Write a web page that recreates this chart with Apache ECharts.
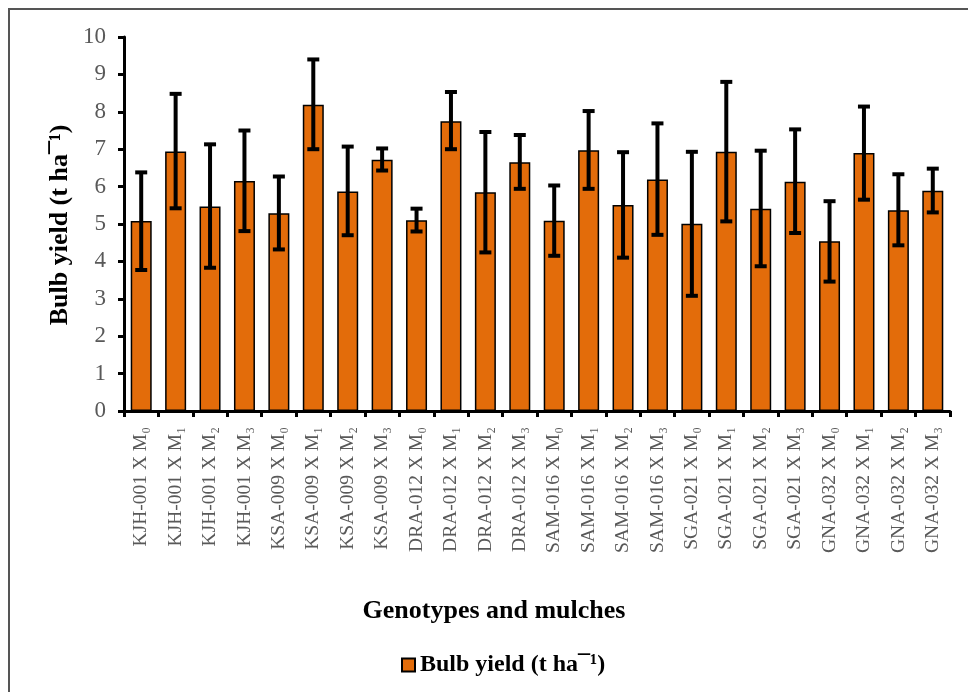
<!DOCTYPE html>
<html>
<head>
<meta charset="utf-8">
<script src="https://cdn.jsdelivr.net/npm/echarts@6/dist/echarts.min.js"></script>
<style>
html,body{margin:0;padding:0;background:#fff;}
#frame{position:absolute;left:8px;top:8px;width:960px;height:684px;border-left:2px solid #555;border-top:2px solid #555;box-sizing:border-box;}
#c{position:absolute;left:0;top:0;width:968px;height:692px;}
</style>
</head>
<body>
<div id="frame"></div>
<div id="c"></div>
<script>
const categories = [
  "KJH-001 X M₀","KJH-001 X M₁","KJH-001 X M₂","KJH-001 X M₃",
  "KSA-009 X M₀","KSA-009 X M₁","KSA-009 X M₂","KSA-009 X M₃",
  "DRA-012 X M₀","DRA-012 X M₁","DRA-012 X M₂","DRA-012 X M₃",
  "SAM-016 X M₀","SAM-016 X M₁","SAM-016 X M₂","SAM-016 X M₃",
  "SGA-021 X M₀","SGA-021 X M₁","SGA-021 X M₂","SGA-021 X M₃",
  "GNA-032 X M₀","GNA-032 X M₁","GNA-032 X M₂","GNA-032 X M₃"
];
const yieldValues = [5.08,6.94,5.47,6.15, 5.29,8.19,5.87,6.72, 5.10,7.75,5.85,6.65,
                     5.09,6.97,5.51,6.19, 5.01,6.93,5.41,6.13, 4.54,6.90,5.37,5.89];
const errHigh = [6.38,8.48,7.13,7.50, 6.27,9.40,7.07,7.02, 5.41,8.53,7.46,7.38,
                 6.03,8.02,6.92,7.69, 6.93,8.80,6.96,7.53, 5.61,8.14,6.33,6.48];
const errLow  = [3.77,5.42,3.83,4.81, 4.32,7.00,4.70,6.43, 4.80,7.00,4.24,5.94,
                 4.15,5.94,4.10,4.71, 3.08,5.07,3.87,4.76, 3.46,5.65,4.43,5.31];
const yTicks = {min:0, max:10, interval:1};
const seriesName = "Bulb yield (t ha¯¹)";

const errData = categories.map((c,i)=>[i, errLow[i], errHigh[i]]);
const chart = echarts.init(document.getElementById('c'), null, {renderer:'canvas'});
const serif = '"Liberation Serif","Times New Roman",serif';
chart.setOption({
  backgroundColor:'transparent',
  animation:false,
  grid:{left:124, right:18, top:37, bottom:281},
  legend:{
    data:[{name:seriesName, icon:'rect'}],
    left:396, top:648, itemWidth:13, itemHeight:13, itemGap:4,
    textStyle:{fontFamily:serif, fontWeight:'bold', fontSize:24, color:'#000'}
  },
  xAxis:{
    type:'category', data:categories,
    axisLine:{lineStyle:{color:'#000', width:3}},
    axisTick:{show:true, alignWithLabel:false, length:6, lineStyle:{color:'#000', width:3}},
    axisLabel:{rotate:90, interval:0, margin:16, fontFamily:serif, fontSize:19.5, color:'#595959'}
  },
  yAxis:{
    type:'value', min:yTicks.min, max:yTicks.max, interval:yTicks.interval,
    splitLine:{show:false},
    axisLine:{show:true, lineStyle:{color:'#000', width:3}},
    axisTick:{show:true, length:6, lineStyle:{color:'#000', width:3}},
    axisLabel:{margin:18, fontFamily:serif, fontSize:23, color:'#595959'}
  },
  graphic:[
    {type:'text', x:494, y:611, style:{text:'Genotypes and mulches', font:'bold 26px '+serif, fill:'#000', align:'center', verticalAlign:'middle'}},
    {type:'text', x:60, y:225, rotation:Math.PI/2, style:{text:'Bulb yield (t ha¯¹)', font:'bold 26px '+serif, fill:'#000', align:'center', verticalAlign:'middle'}}
  ],
  series:[
    {
      name:seriesName, type:'bar', data:yieldValues, barWidth:21,
      itemStyle:{color:'#E36C0A', borderColor:'#000', borderWidth:1.5}
    },
    {
      type:'custom', data:errData, z:5,
      renderItem:function(params, api){
        const x = api.value(0);
        const lo = api.coord([x, api.value(1)]);
        const hi = api.coord([x, api.value(2)]);
        const hw = 6;
        const st = {stroke:'#000', lineWidth:4};
        return {type:'group', children:[
          {type:'line', shape:{x1:lo[0], y1:lo[1], x2:hi[0], y2:hi[1]}, style:st},
          {type:'line', shape:{x1:lo[0]-hw, y1:lo[1], x2:lo[0]+hw, y2:lo[1]}, style:st},
          {type:'line', shape:{x1:hi[0]-hw, y1:hi[1], x2:hi[0]+hw, y2:hi[1]}, style:st}
        ]};
      }
    }
  ]
});
</script>
</body>
</html>
